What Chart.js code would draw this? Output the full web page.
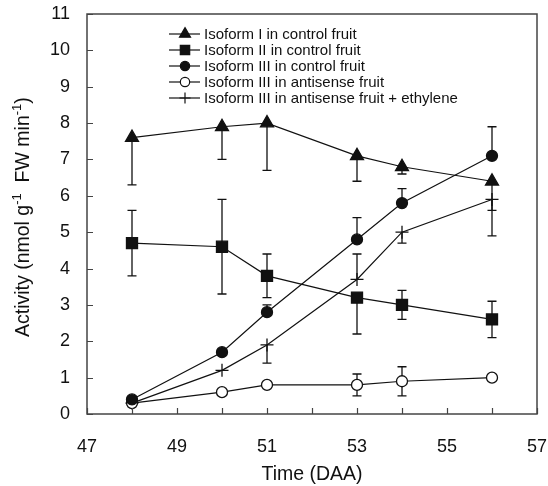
<!DOCTYPE html>
<html><head><meta charset="utf-8">
<script src="https://cdn.jsdelivr.net/npm/chart.js@4.4.1/dist/chart.umd.min.js"></script>
<style>html,body{margin:0;padding:0;background:#fff}#wrap{width:548px;height:486px;position:relative}</style>
</head><body><div id="wrap"><canvas id="c" width="548" height="486"></canvas></div>
<script>
// ---- data ----
const days = [48, 50, 51, 53, 54, 56];
const seriesNames = [
  'Isoform I in control fruit',
  'Isoform II in control fruit',
  'Isoform III in control fruit',
  'Isoform III in antisense fruit',
  'Isoform III in antisense fruit + ethylene'
];
const isoI_ctrl      = [7.6, 7.9, 8.0, 7.1, 6.8, 6.4];
const isoI_ctrl_lo   = [6.3, 7.0, 6.7, 6.4, 6.6, 5.6];
const isoI_ctrl_hi   = [null, null, null, null, null, null];
const isoII_ctrl     = [4.7, 4.6, 3.8, 3.2, 3.0, 2.6];
const isoII_ctrl_lo  = [3.8, 3.3, 3.2, 2.2, 2.6, 2.1];
const isoII_ctrl_hi  = [5.6, 5.9, 4.4, null, 3.4, 3.1];
const isoIII_ctrl    = [0.4, 1.7, 2.8, 4.8, 5.8, 7.1];
const isoIII_ctrl_lo = [null, null, null, null, null, null];
const isoIII_ctrl_hi = [null, null, 3.0, 5.4, 6.2, 7.9];
const isoIII_anti    = [0.3, 0.6, 0.8, 0.8, 0.9, 1.0];
const isoIII_anti_lo = [null, null, null, 0.5, 0.5, null];
const isoIII_anti_hi = [null, null, null, 1.1, 1.3, null];
const isoIII_eth     = [0.3, 1.2, 1.9, 3.7, 5.0, 5.9];
const isoIII_eth_lo  = [null, null, 1.4, null, 4.7, 4.9];
const isoIII_eth_hi  = [null, null, null, 4.4, null, null];
const xTickValues = [47, 49, 51, 53, 55, 57];
const yTickValues = [0, 1, 2, 3, 4, 5, 6, 7, 8, 9, 10, 11];

const INK = '#111';
const FONT = "'Liberation Sans', Arial, sans-serif";

function pts(vals){ return days.map((d,i)=>({x:d, y:vals[i]})); }

const styles = [
  {pointStyle:'triangle', radius:7.5, fill:INK},
  {pointStyle:'rect', radius:7.8, fill:INK},
  {pointStyle:'circle', radius:5.5, fill:INK},
  {pointStyle:'circle', radius:5.5, fill:'#fff'},
  {pointStyle:'cross', radius:6.5, fill:INK}
];
const values = [isoI_ctrl, isoII_ctrl, isoIII_ctrl, isoIII_anti, isoIII_eth];
const lows = [isoI_ctrl_lo, isoII_ctrl_lo, isoIII_ctrl_lo, isoIII_anti_lo, isoIII_eth_lo];
const highs = [isoI_ctrl_hi, isoII_ctrl_hi, isoIII_ctrl_hi, isoIII_anti_hi, isoIII_eth_hi];

const datasets = values.map((v,i)=>({
  label: seriesNames[i],
  data: pts(v),
  errLo: lows[i],
  errHi: highs[i],
  borderColor: INK,
  borderWidth: 1.2,
  pointStyle: styles[i].pointStyle,
  pointRadius: styles[i].radius,
  pointHoverRadius: styles[i].radius,
  pointBackgroundColor: styles[i].fill,
  pointBorderColor: INK,
  pointBorderWidth: 1.3,
  fill: false,
  tension: 0
}));

// error bars drawn before datasets so markers sit on top
const errorBars = {
  id:'errorBars',
  beforeDatasetsDraw(chart){
    const ctx = chart.ctx, xs = chart.scales.x, ys = chart.scales.y;
    ctx.save();
    ctx.strokeStyle = INK; ctx.lineWidth = 1.3;
    chart.data.datasets.forEach(ds=>{
      ds.data.forEach((p,i)=>{
        const px = xs.getPixelForValue(p.x), py = ys.getPixelForValue(p.y);
        [ds.errLo[i], ds.errHi[i]].forEach(e=>{
          if (e === null || e === undefined) return;
          const ey = ys.getPixelForValue(e);
          ctx.beginPath();
          ctx.moveTo(px, py); ctx.lineTo(px, ey);
          ctx.moveTo(px-4.5, ey); ctx.lineTo(px+4.5, ey);
          ctx.stroke();
        });
      });
    });
    ctx.restore();
  }
};

function drawMarker(ctx, style, r, fill, x, y){
  ctx.beginPath();
  if (style === 'triangle'){
    ctx.moveTo(x, y - r);
    ctx.lineTo(x + r*0.866, y + r*0.5);
    ctx.lineTo(x - r*0.866, y + r*0.5);
    ctx.closePath();
  } else if (style === 'rect'){
    const s = r*0.7071;
    ctx.rect(x-s, y-s, 2*s, 2*s);
  } else if (style === 'circle'){
    ctx.arc(x, y, r, 0, Math.PI*2);
  } else if (style === 'cross'){
    ctx.moveTo(x-r, y); ctx.lineTo(x+r, y);
    ctx.moveTo(x, y-r); ctx.lineTo(x, y+r);
    ctx.stroke();
    return;
  }
  ctx.fillStyle = fill; ctx.fill(); ctx.stroke();
}

const frameAndText = {
  id:'frameAndText',
  afterDraw(chart){
    const ctx = chart.ctx, a = chart.chartArea, xs = chart.scales.x, ys = chart.scales.y;
    ctx.save();
    // frame
    ctx.strokeStyle = '#444'; ctx.lineWidth = 1.5;
    ctx.strokeRect(a.left, a.top, a.right - a.left, a.bottom - a.top);
    // inward ticks
    ctx.lineWidth = 1.2;
    ctx.beginPath();
    for (let v = 47; v <= 57; v++){
      const x = Math.round(xs.getPixelForValue(v)) + 0.5;
      ctx.moveTo(x, a.bottom); ctx.lineTo(x, a.bottom - 6);
    }
    yTickValues.forEach(v=>{
      const y = Math.round(ys.getPixelForValue(v)) + 0.5;
      ctx.moveTo(a.left, y); ctx.lineTo(a.left + 6, y);
    });
    ctx.stroke();

    // legend
    ctx.font = '15px ' + FONT;
    ctx.textBaseline = 'middle';
    ctx.textAlign = 'left';
    seriesNames.forEach((name,i)=>{
      const y = 34 + 16*i;
      ctx.strokeStyle = INK; ctx.lineWidth = 1.2;
      ctx.beginPath(); ctx.moveTo(169, y); ctx.lineTo(200, y); ctx.stroke();
      const st = styles[i];
      drawMarker(ctx, st.pointStyle, st.radius*0.85, st.fill, 185, y);
      ctx.fillStyle = INK;
      ctx.fillText(name, 204, y + 1);
    });

    // y axis title with superscripts
    ctx.save();
    ctx.translate(29, 337);
    ctx.rotate(-Math.PI/2);
    ctx.fillStyle = INK;
    ctx.textBaseline = 'alphabetic';
    const parts = [
      ['Activity (nmol g', false], ['-1', true], ['  FW min', false], ['-1', true], [')', false]
    ];
    let x = 0;
    parts.forEach(([t, sup])=>{
      ctx.font = (sup ? '13px ' : '19.5px ') + FONT;
      ctx.fillText(t, x, sup ? -8 : 0);
      x += ctx.measureText(t).width;
    });
    ctx.restore();

    // x axis title
    ctx.font = '19.5px ' + FONT;
    ctx.textAlign = 'center';
    ctx.textBaseline = 'alphabetic';
    ctx.fillStyle = INK;
    ctx.fillText('Time (DAA)', (a.left + a.right)/2, 480);
    ctx.restore();
  }
};

new Chart(document.getElementById('c'), {
  type: 'line',
  data: { datasets },
  options: {
    responsive: false,
    animation: false,
    layout: { padding: { top: 14, right: 11, left: 0, bottom: 0 } },
    plugins: { legend: { display: false }, tooltip: { enabled: false } },
    scales: {
      x: {
        type: 'linear', min: 47, max: 57,
        afterFit(s){ s.height = 72; s.paddingLeft = 0; s.paddingRight = 0; },
        afterBuildTicks(s){ s.ticks = xTickValues.map(v=>({value:v})); },
        grid: { display: false, drawTicks: false },
        border: { display: false },
        ticks: { color: INK, font: { size: 18, family: FONT }, padding: 22, maxRotation: 0 }
      },
      y: {
        type: 'linear', min: 0, max: 11,
        afterFit(s){ s.width = 87; s.paddingTop = 0; s.paddingBottom = 0; },
        afterBuildTicks(s){ s.ticks = yTickValues.map(v=>({value:v})); },
        grid: { display: false, drawTicks: false },
        border: { display: false },
        ticks: { color: INK, font: { size: 18, family: FONT }, padding: 17 }
      }
    }
  },
  plugins: [errorBars, frameAndText]
});
</script></body></html>
